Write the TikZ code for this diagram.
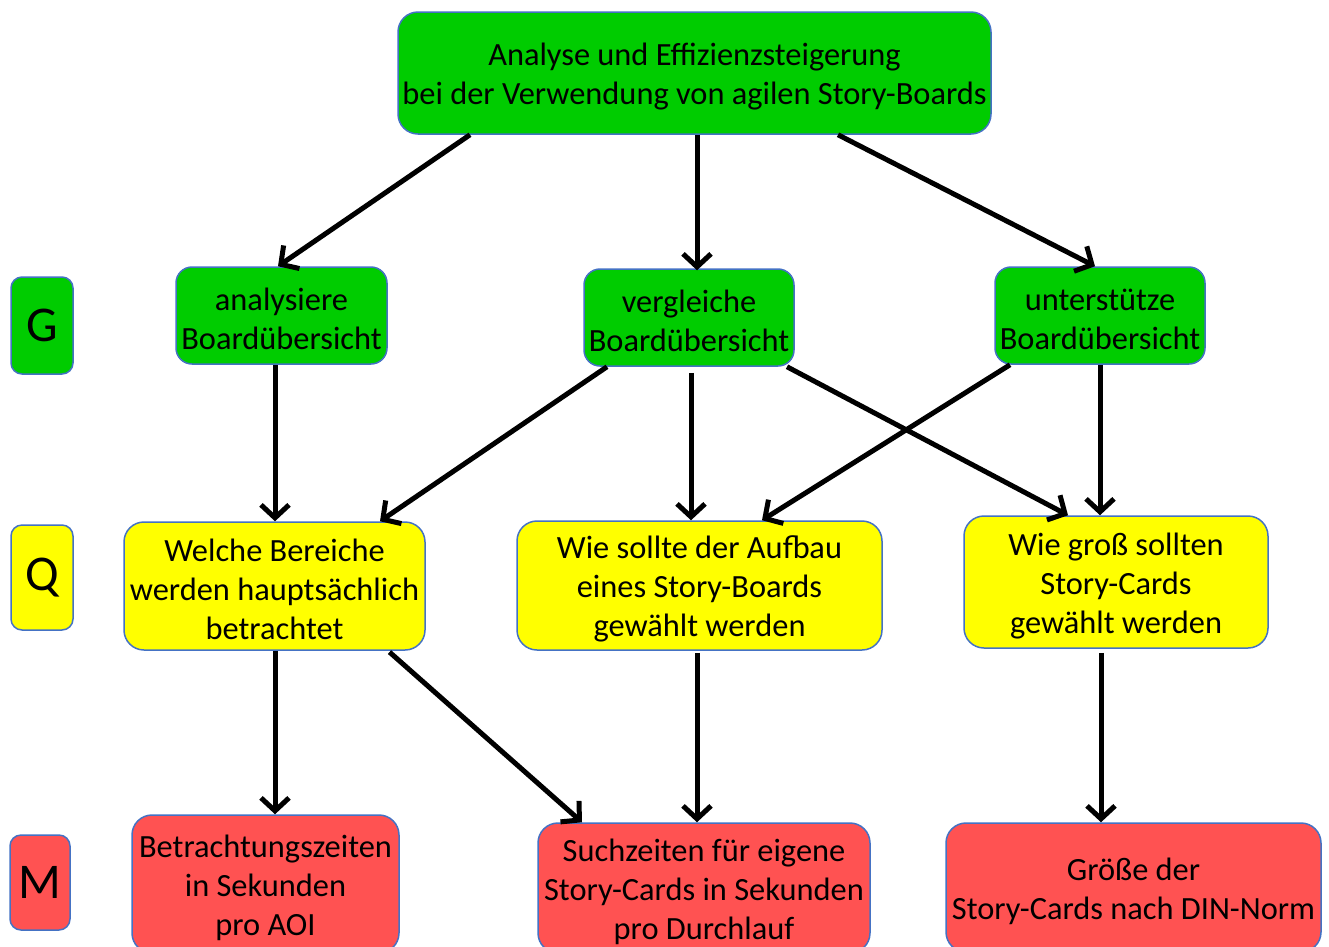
\documentclass[tikz,border=0pt]{standalone}
\usepackage{fontspec}
\setmainfont{Carlito}
\usetikzlibrary{arrows.meta}
\definecolor{goalgreen}{RGB}{0,204,0}
\definecolor{qyellow}{RGB}{255,255,0}
\definecolor{mred}{RGB}{255,82,82}
\definecolor{edgeblue}{RGB}{68,114,196}
% pushes the first text line of a box slightly down
\newcommand{\firstline}{\rule{0pt}{30pt}}
\tikzset{
  box/.style={draw=edgeblue, line width=1.5pt, rounded corners=20pt, align=center,
    inner sep=0pt, font=\fontsize{32.4}{39}\selectfont},
  goal/.style={box, fill=goalgreen},
  question/.style={box, fill=qyellow},
  metric/.style={box, fill=mred},
  level/.style={draw=edgeblue, line width=1.5pt, rounded corners=11pt, inner sep=0pt,
    font=\fontsize{50}{50}\selectfont},
  link/.style={line width=5pt, -{Straight Barb[length=13pt,width=28pt]}}
}
\begin{document}
\begin{tikzpicture}[x=1pt,y=-1pt]
\useasboundingbox (0,0) rectangle (1329,946);
\clip (0,0) rectangle (1329,946);

% level markers
\node[level, fill=goalgreen, minimum width=62pt, minimum height=97pt] (G) at (42,325.5) {G};
\node[level, fill=qyellow, minimum width=62pt, minimum height=105pt] (Q) at (42,577.5) {Q};
\node[level, fill=mred, minimum width=60pt, minimum height=95pt] (M) at (40,882.5) {M};

% goal
\node[goal, minimum width=593pt, minimum height=122pt] (top) at (694.5,73)
  {\firstline Analyse und Effizienzsteigerung\\bei der Verwendung von agilen Story-Boards};

% sub-goals
\node[goal, rounded corners=16pt, minimum width=211pt, minimum height=97pt] (an) at (281.5,315.5)
  {\firstline analysiere\\Boardübersicht};
\node[goal, rounded corners=16pt, minimum width=210pt, minimum height=97pt] (ve) at (689,317.5)
  {\firstline vergleiche\\Boardübersicht};
\node[goal, rounded corners=16pt, minimum width=210pt, minimum height=97pt] (un) at (1100,315.5)
  {\firstline unterstütze\\Boardübersicht};

% questions
\node[question, minimum width=301pt, minimum height=128pt] (we) at (274.5,586)
  {\firstline Welche Bereiche\\werden hauptsächlich\\betrachtet};
\node[question, minimum width=365pt, minimum height=129pt] (wi) at (699.5,585.5)
  {\firstline Wie sollte der Aufbau\\eines Story-Boards\\gewählt werden};
\node[question, minimum width=304pt, minimum height=132pt] (gr) at (1116,582)
  {\firstline Wie groß sollten\\Story-Cards\\gewählt werden};

% metrics
\node[metric, minimum width=267pt, minimum height=138pt] (be) at (265.5,884)
  {\firstline Betrachtungszeiten\\in Sekunden\\pro AOI};
\node[metric, minimum width=332pt, minimum height=130pt] (su) at (704,888)
  {\firstline Suchzeiten für eigene\\Story-Cards in Sekunden\\pro Durchlauf};
\node[metric, minimum width=375pt, minimum height=129pt] (gn) at (1133.5,887.5)
  {\firstline Größe der\\Story-Cards nach DIN-Norm};

% connectors
\draw[link] ([xshift=-224.5]top.south) -- ([xshift=-3.5]an.north);
\draw[link] ([xshift=2.5]top.south) -- ([xshift=8,yshift=-2]ve.north);
\draw[link] ([xshift=143.5]top.south) -- ([xshift=-5]un.north);

\draw[link] ([xshift=-6.5]an.south) -- ([xshift=0.5]we.north);
\draw[link] ([xshift=-82]ve.south) -- ([xshift=105.5]we.north);
\draw[link, shorten <=6pt] ([xshift=2]ve.south) -- ([xshift=-8.5]wi.north);
\draw[link] ([xshift=98]ve.south) -- ([xshift=-48]gr.north);
\draw[link] ([xshift=-90]un.south) -- ([xshift=62.5]wi.north);
\draw[link] (un.south) -- ([xshift=-16]gr.north);

\draw[link] ([xshift=0.5]we.south) -- ([xshift=9.5]be.north);
\draw[link, shorten <=2pt] ([xshift=113.5]we.south) -- ([xshift=-122]su.north);
\draw[link, shorten <=2pt] ([xshift=-2.5]wi.south) -- ([xshift=-7]su.north);
\draw[link, shorten <=4pt] ([xshift=-15]gr.south) -- ([xshift=-32.5]gn.north);
\end{tikzpicture}
\end{document}
